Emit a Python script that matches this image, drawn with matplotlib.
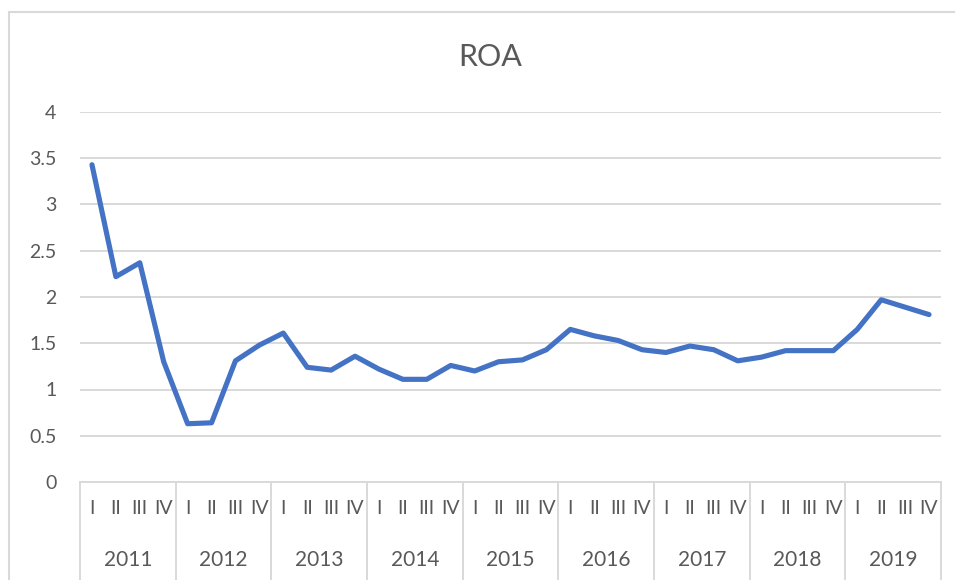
import matplotlib.pyplot as plt
from matplotlib.patches import Rectangle
from matplotlib.transforms import blended_transform_factory

plt.rcParams['font.family'] = ['Lato', 'DejaVu Sans']

years = ['2011', '2012', '2013', '2014', '2015', '2016', '2017', '2018', '2019']
quarters = ['I', 'II', 'III', 'IV']

# ROA by quarter, 2011 I .. 2019 IV
roa = [3.43, 2.22, 2.37, 1.30,
       0.63, 0.64, 1.31, 1.48,
       1.61, 1.24, 1.21, 1.36,
       1.22, 1.11, 1.11, 1.26,
       1.20, 1.30, 1.32, 1.43,
       1.65, 1.58, 1.53, 1.43,
       1.40, 1.47, 1.43, 1.31,
       1.35, 1.42, 1.42, 1.42,
       1.65, 1.97, 1.89, 1.81]

grid_c = '#d9d9d9'
text_c = '#595959'

W, H = 955, 580
fig = plt.figure(figsize=(W / 100, H / 100), dpi=100)
ax = fig.add_axes([80 / W, (H - 482) / H, 861 / W, 370 / H])

n = len(roa)
x = list(range(n))
ax.plot(x, roa, color='#4472C4', lw=3.7, solid_joinstyle='round',
        solid_capstyle='round', zorder=3)

ax.set_xlim(-0.5, n - 0.5)
ax.set_ylim(0, 4)
ax.set_yticks([0, 0.5, 1, 1.5, 2, 2.5, 3, 3.5, 4])
ax.set_yticklabels(['0', '0.5', '1', '1.5', '2', '2.5', '3', '3.5', '4'])
ax.grid(axis='y', color=grid_c, lw=1.4)
ax.set_axisbelow(True)

for s in ['top', 'right', 'left']:
    ax.spines[s].set_visible(False)
ax.spines['bottom'].set_color(grid_c)
ax.spines['bottom'].set_linewidth(1.4)

ax.set_xticks(x)
ax.set_xticklabels(quarters * len(years))
ax.tick_params(axis='x', length=0, pad=13, labelsize=14, labelcolor=text_c)
ax.tick_params(axis='y', length=0, pad=17, labelsize=14, labelcolor=text_c)

# year labels and separators under the category axis
trans = blended_transform_factory(ax.transData, ax.transAxes)
for i, yr in enumerate(years):
    ax.text(i * 4 + 1.5, -0.21, yr, transform=trans, ha='center', va='center',
            fontsize=15, color=text_c)
for k in range(len(years) + 1):
    ax.plot([k * 4 - 0.5, k * 4 - 0.5], [0, -0.3], transform=trans,
            color=grid_c, lw=1.4, clip_on=False)

fig.text(490 / W, 1 - 57 / H, 'ROA', ha='center', va='center',
         fontsize=22, color=text_c)

# chart frame
fig.patches.append(Rectangle((9 / W, -0.1), 1.1, 1 - 12 / H + 0.1,
                             transform=fig.transFigure, fill=False,
                             edgecolor=grid_c, lw=1.5))

fig.savefig('out.png', dpi=100)
